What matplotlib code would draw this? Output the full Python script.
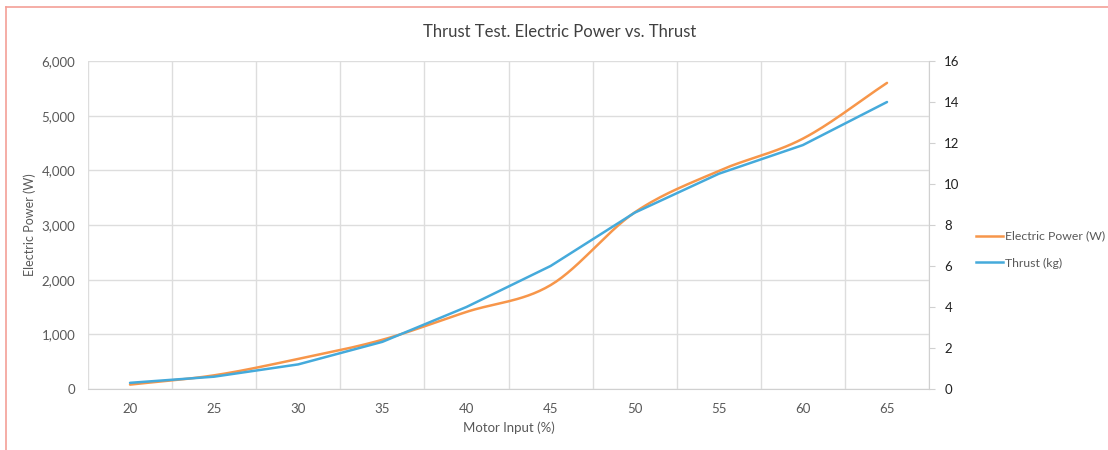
import matplotlib
matplotlib.use("Agg")
import matplotlib.pyplot as plt
import numpy as np
from matplotlib.lines import Line2D

plt.rcParams['font.family'] = ['Lato', 'DejaVu Sans']

motor_input = [20, 25, 30, 35, 40, 45, 50, 55, 60, 65]
electric_power = [80, 250, 550, 900, 1410, 1900, 3230, 3990, 4580, 5600]
thrust = [0.3, 0.6, 1.2, 2.3, 4.0, 6.0, 8.6, 10.5, 11.9, 14.0]

ORANGE = '#F7964A'
BLUE = '#45AADB'
GRID = '#DDDDDD'
TEXT = '#595959'


def smooth(xs, ys, steps=30):
    # Catmull-Rom style smoothing, like a spreadsheet "smoothed line"
    xs = np.asarray(xs, float)
    ys = np.asarray(ys, float)
    px = np.concatenate([[2 * xs[0] - xs[1]], xs, [2 * xs[-1] - xs[-2]]])
    py = np.concatenate([[2 * ys[0] - ys[1]], ys, [2 * ys[-1] - ys[-2]]])
    out_x, out_y = [], []
    t = np.linspace(0, 1, steps, endpoint=False)
    for i in range(1, len(px) - 2):
        for p, out in ((px, out_x), (py, out_y)):
            p0, p1, p2, p3 = p[i - 1], p[i], p[i + 1], p[i + 2]
            c1 = p1 + (p2 - p0) / 6
            c2 = p2 - (p3 - p1) / 6
            out.extend((1 - t) ** 3 * p1 + 3 * (1 - t) ** 2 * t * c1
                       + 3 * (1 - t) * t ** 2 * c2 + t ** 3 * p2)
    out_x.append(xs[-1])
    out_y.append(ys[-1])
    return np.array(out_x), np.array(out_y)


fig = plt.figure(figsize=(11.08, 4.5), dpi=100)
ax = fig.add_axes([0.0794, 0.1356, 0.7591, 0.7288])
ax2 = ax.twinx()

pos = np.arange(len(motor_input))
sx, sy = smooth(pos, electric_power)
ax.plot(sx, sy, color=ORANGE, lw=1.8, solid_capstyle='round', zorder=3)
ax2.plot(pos, thrust, color=BLUE, lw=1.8, solid_capstyle='round', zorder=3)

ax.set_xlim(-0.5, len(pos) - 0.5)
ax.set_ylim(0, 6000)
ax2.set_ylim(0, 16)

ax.set_xticks(pos)
ax.set_xticklabels([str(v) for v in motor_input])
ax.set_xticks(np.arange(-0.5, len(pos)), minor=True)
ax.set_yticks(range(0, 6001, 1000))
ax.set_yticklabels([f'{v:,}' for v in range(0, 6001, 1000)])
ax2.set_yticks(range(0, 17, 2))

ax.grid(True, which='minor', axis='x', color=GRID, lw=1)
ax.grid(True, which='major', axis='y', color=GRID, lw=1)
ax.set_axisbelow(True)

for spine in ['top', 'left', 'right']:
    ax.spines[spine].set_visible(False)
for spine in ['top', 'left', 'bottom']:
    ax2.spines[spine].set_visible(False)
ax.spines['bottom'].set_color('#D0D0D0')
ax2.spines['right'].set_color('#D0D0D0')

ax.tick_params(axis='x', which='both', length=0, labelsize=9.5, colors=TEXT, pad=10)
ax.tick_params(axis='y', length=0, labelsize=9.5, colors=TEXT, pad=9)
ax2.tick_params(axis='y', length=4, color='#D0D0D0', labelsize=9.5,
                labelcolor='#222222', pad=7)

ax.set_xlabel('Motor Input (%)', fontsize=9.5, color=TEXT, labelpad=5)
ax.set_ylabel('Electric Power (W)', fontsize=9, color=TEXT, labelpad=4)

fig.text(0.5055, 0.928, 'Thrust Test. Electric Power vs. Thrust',
         ha='center', va='center', fontsize=12, color='#404040')

handles = [Line2D([], [], color=ORANGE, lw=1.8),
           Line2D([], [], color=BLUE, lw=1.8)]
fig.legend(handles, ['Electric Power (W)', 'Thrust (kg)'],
           loc='center left', bbox_to_anchor=(0.871, 0.445), frameon=False,
           fontsize=8.8, labelcolor=TEXT, handlelength=2.2, handletextpad=0.2,
           labelspacing=1.3)

# chart frame border
fig.add_artist(Line2D([6 / 1108, 1], [1 - 7 / 450] * 2,
                      transform=fig.transFigure, color='#F4A097', lw=1.2))
fig.add_artist(Line2D([6 / 1108] * 2, [0, 1 - 7 / 450],
                      transform=fig.transFigure, color='#F4A097', lw=1.2))

fig.savefig('out.png', dpi=100, facecolor='white')
